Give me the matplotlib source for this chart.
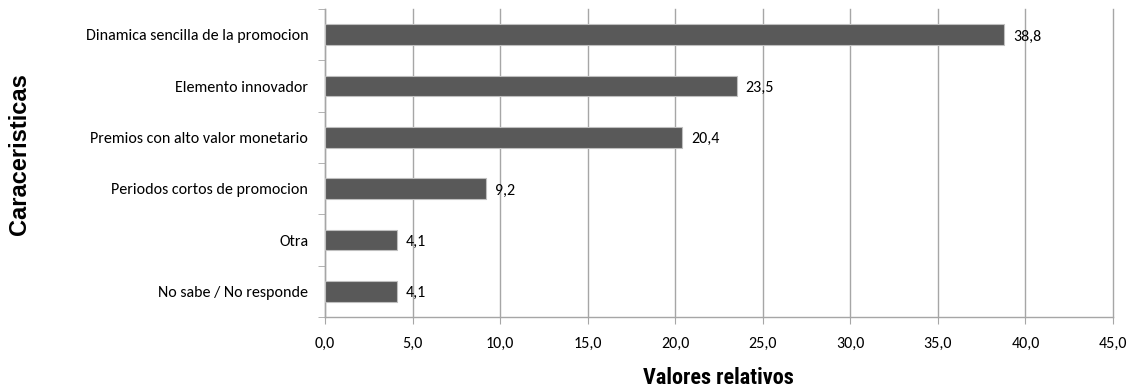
import matplotlib
matplotlib.use("Agg")
import matplotlib.pyplot as plt
from matplotlib.ticker import FixedLocator, NullFormatter

# datos del grafico
categorias = ["Dinamica sencilla de la promocion", "Elemento innovador",
              "Premios con alto valor monetario", "Periodos cortos de promocion",
              "Otra", "No sabe / No responde"]
valores = [38.8, 23.5, 20.4, 9.2, 4.1, 4.1]
ticks_x = [0, 5, 10, 15, 20, 25, 30, 35, 40, 45]

fuente = ["Carlito", "DejaVu Sans"]
gris = "#a6a6a6"

fig = plt.figure(figsize=(11.3, 3.91), dpi=100)
ax = fig.add_axes([325 / 1130, 1 - 317 / 391, (1113 - 325) / 1130, (317 - 9) / 391])

y = list(range(len(categorias)))[::-1]
ax.barh(y, valores, height=0.4, color="#595959", edgecolor="#bfbfbf", linewidth=0.8, zorder=3)

for yi, v in zip(y, valores):
    ax.text(v + 0.5, yi - 0.04, f"{v:.1f}".replace(".", ","), va="center", ha="left",
            fontsize=11.5, family=fuente, zorder=4)

ax.set_xlim(0, 45)
ax.set_ylim(-0.5, len(categorias) - 0.5)
ax.set_xticks(ticks_x)
ax.set_xticklabels([f"{t:.1f}".replace(".", ",") for t in ticks_x], fontsize=11.5, family=fuente)
ax.set_yticks(y)
ax.set_yticklabels(categorias, fontsize=11.5, family=fuente)
ax.tick_params(axis="y", length=0, pad=12)
ax.tick_params(axis="x", length=5, color=gris, pad=9)

# marcas menores entre categorias en el eje vertical
ax.yaxis.set_minor_locator(FixedLocator([i - 0.5 for i in range(len(categorias) + 1)]))
ax.yaxis.set_minor_formatter(NullFormatter())
ax.tick_params(axis="y", which="minor", length=5, color=gris)

ax.grid(axis="x", color=gris, linewidth=1, zorder=0)
for linea in ax.get_xgridlines():
    linea.set_clip_on(False)
ax.set_axisbelow(True)
for lado in ["top", "right"]:
    ax.spines[lado].set_visible(False)
for lado in ["left", "bottom"]:
    ax.spines[lado].set_color(gris)
    ax.spines[lado].set_linewidth(1)

# titulos de los ejes
fig.text(718 / 1130, 1 - 378 / 391, "Valores relativos", ha="center", va="center",
         fontsize=16, fontweight="bold", family=["Roboto Condensed", "DejaVu Sans"])
fig.text(20 / 1130, 1 - 154 / 391, "Caraceristicas", rotation=90, ha="center", va="center",
         fontsize=17, fontweight="bold", family=["Liberation Sans", "DejaVu Sans"])

fig.savefig("out.png", dpi=100)
